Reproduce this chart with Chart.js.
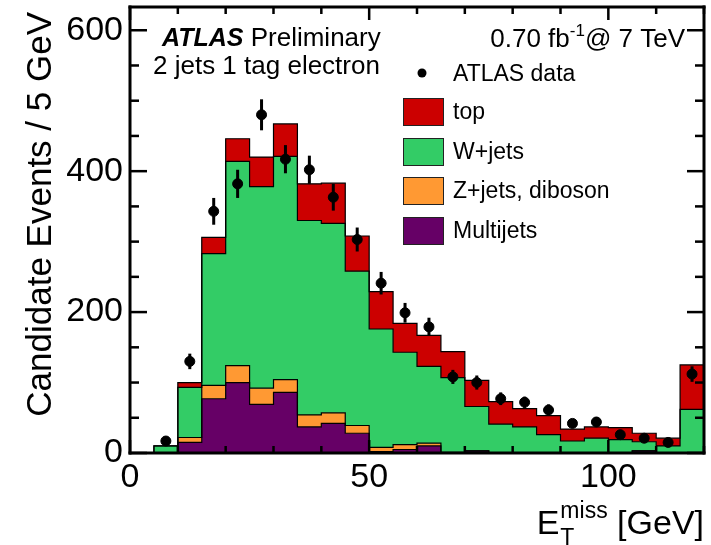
<!DOCTYPE html>
<html><head><meta charset="utf-8">
<script src="https://cdn.jsdelivr.net/npm/chart.js@4.4.1/dist/chart.umd.min.js"></script>
<style>html,body{margin:0;padding:0;background:#fff}#wrap{width:711px;height:545px;position:relative}</style>
</head><body><div id="wrap"><canvas id="c" width="711" height="545"></canvas></div>
<script>
// ---- data (bins of 5 GeV, 0..120) ----
const binEdges = [0,5,10,15,20,25,30,35,40,45,50,55,60,65,70,75,80,85,90,95,100,105,110,115,120];
const multijets    = [0,0,15,77,100,69,86,37,42,28,2,5,10,0,3,0,0,0,0,0,0,3,0,0];
const zjetsDiboson = [0,0,7,19,24,23,18,17,15,11,6,7,4,1,0,0,0,0,0,0,0,0,0,0];
const wjets        = [0,10,71,187,290,286,317,276,269,219,168,131,109,106,63,41,37,26,17,21,19,13,10,62];
const topQuark     = [0,0,7,23,32,42,46,52,57,50,53,41,44,37,37,32,26,27,17,16,17,12,11,63];
const dataCounts   = [null,17,130,343,382,480,417,402,363,303,241,199,179,108,100,77,72,61,42,44,26,21,15,112];
const dataErrors   = [0,4,11,19,20,22,20,20,19,17,16,14,13,10,10,9,8,8,6,7,5,5,4,11];
const yTickValues  = [0,200,400,600];
const xTickValues  = [0,50,100];
const seriesLabels = ['ATLAS data','top','W+jets','Z+jets, diboson','Multijets'];

// ---- build stacked step outlines ----
const sum = (a,b) => a.map((v,i)=>v+b[i]);
const c1 = multijets.slice();
const c2 = sum(c1, zjetsDiboson);
const c3 = sum(c2, wjets);
const c4 = sum(c3, topQuark);
function stepPts(vals){
  const pts = vals.map((v,i)=>({x:binEdges[i], y:v}));
  pts.push({x:binEdges[binEdges.length-1], y:vals[vals.length-1]});
  return pts;
}
const centers = binEdges.slice(0,-1).map((e,i)=> (e+binEdges[i+1])/2);
const dataPts = [];
dataCounts.forEach((v,i)=>{ if(v!==null) dataPts.push({x:centers[i], y:v, e:dataErrors[i]}); });

const COL = {top:'#cc0000', w:'#33cc66', z:'#ff9933', m:'#660066'};
const FONT = '"Liberation Sans", Arial, Helvetica, sans-serif';
const Y_MAX = 633, X_MAX = 120;

const decor = {
  id:'decor',
  afterDraw(chart){
    const ctx = chart.ctx, xs = chart.scales.x, ys = chart.scales.y, ca = chart.chartArea;
    ctx.save();
    ctx.fillStyle = '#000';
    // error bars
    dataPts.forEach(p=>{
      const px = xs.getPixelForValue(p.x);
      const yTop = ys.getPixelForValue(p.y + p.e), yBot = ys.getPixelForValue(p.y - p.e);
      ctx.fillRect(px - 1.5, yTop, 3, yBot - yTop);
    });
    const L = Math.round(ca.left), R = Math.round(ca.right), T = Math.round(ca.top), B = Math.round(ca.bottom);
    // y ticks (inward, both sides)
    for(let v=0; v<=Y_MAX; v+=50){
      const py = ys.getPixelForValue(v);
      const len = (v%200===0) ? 17 : 9;
      ctx.fillRect(L, py - 1.25, len, 2.5);
      ctx.fillRect(R - len, py - 1.25, len, 2.5);
    }
    // x ticks (inward, top and bottom)
    for(let v=0; v<=X_MAX; v+=10){
      const px = xs.getPixelForValue(v);
      const len = (v%50===0) ? 13 : 7;
      ctx.fillRect(px - 1.25, B - len, 2.5, len);
      ctx.fillRect(px - 1.25, T, 2.5, len);
    }
    // frame
    ctx.fillRect(L - 1.5, T - 1.5, R - L + 3, 3);
    ctx.fillRect(L - 1.5, B - 1.5, R - L + 3, 3);
    ctx.fillRect(L - 1.5, T - 1.5, 3, B - T + 3);
    ctx.fillRect(R - 1.5, T - 1.5, 3, B - T + 3);

    ctx.textBaseline = 'alphabetic';
    ctx.textAlign = 'left';
    // ATLAS Preliminary
    ctx.font = 'italic bold 25px ' + FONT;
    ctx.fillText('ATLAS', 162, 46);
    const wA = ctx.measureText('ATLAS').width;
    ctx.font = '26px ' + FONT;
    ctx.fillText(' Preliminary', 162 + wA, 46);
    ctx.fillText('2 jets 1 tag electron', 153, 74);
    // luminosity
    ctx.font = '26px ' + FONT;
    const t1 = '0.70 fb', t3 = '@ 7 TeV';
    const w1 = ctx.measureText(t1).width, w3 = ctx.measureText(t3).width;
    ctx.font = '17px ' + FONT;
    const w2 = ctx.measureText('-1').width;
    const xr = 685, xl = xr - (w1 + w2 + w3);
    ctx.font = '26px ' + FONT;
    ctx.fillText(t1, xl, 47);
    ctx.fillText(t3, xl + w1 + w2, 47);
    ctx.font = '17px ' + FONT;
    ctx.fillText('-1', xl + w1, 36);
    // legend
    const ds = chart.data.datasets;
    ctx.font = '23px ' + FONT;
    ctx.beginPath(); ctx.arc(422, 73, 4.5, 0, Math.PI*2); ctx.fill();
    ctx.fillText(ds[0].label, 453, 81);
    const rows = [[1,98],[2,138],[3,177],[4,217]];
    rows.forEach(([k,y])=>{
      ctx.fillStyle = ds[k].backgroundColor;
      ctx.fillRect(403, y, 41, 28);
      ctx.strokeStyle = '#222'; ctx.lineWidth = 1;
      ctx.strokeRect(403.5, y+0.5, 40, 27);
      ctx.fillStyle = '#000';
      ctx.fillText(ds[k].label, 453, y + 21);
    });
    // y axis title
    ctx.save();
    ctx.font = '35px ' + FONT;
    ctx.translate(51, 12);
    ctx.rotate(-Math.PI/2);
    ctx.textAlign = 'right';
    ctx.fillText('Candidate Events / 5 GeV', 0, 0);
    ctx.restore();
    // x axis title  E_T^miss [GeV]
    ctx.textAlign = 'left';
    ctx.font = '34px ' + FONT;
    const wE = ctx.measureText('E').width;
    const wB = ctx.measureText(' [GeV]').width;
    ctx.font = '23px ' + FONT;
    const wM = ctx.measureText('miss').width;
    const xend = 707;
    const xs0 = xend - (wE + 1 + wM + wB) - 3;
    ctx.font = '34px ' + FONT;
    ctx.fillText('E', xs0, 534);
    ctx.fillText(' [GeV]', xs0 + wE + 1 + wM, 534);
    ctx.font = '23px ' + FONT;
    ctx.fillText('miss', xs0 + wE + 1, 518);
    ctx.fillText('T', xs0 + wE + 1, 545);
    ctx.restore();
  }
};

const lineBase = {type:'line', borderColor:'#000', borderWidth:1.2, pointRadius:0, stepped:true, tension:0};
new Chart(document.getElementById('c'), {
  type:'line',
  data:{
    datasets:[
      {type:'line', label:seriesLabels[0], data:dataPts, showLine:false, pointRadius:5, pointBackgroundColor:'#000', pointBorderColor:'#000', borderColor:'#000', backgroundColor:'#000', fill:false},
      Object.assign({}, lineBase, {label:seriesLabels[1], data:stepPts(c4), backgroundColor:COL.top, fill:'+1'}),
      Object.assign({}, lineBase, {label:seriesLabels[2], data:stepPts(c3), backgroundColor:COL.w, fill:'+1'}),
      Object.assign({}, lineBase, {label:seriesLabels[3], data:stepPts(c2), backgroundColor:COL.z, fill:'+1'}),
      Object.assign({}, lineBase, {label:seriesLabels[4], data:stepPts(c1), backgroundColor:COL.m, fill:'origin'})
    ]
  },
  options:{
    responsive:false, animation:false, devicePixelRatio:1,
    layout:{padding:{left:0, right:7, top:7, bottom:0}},
    plugins:{legend:{display:false}, tooltip:{enabled:false}, filler:{drawTime:'beforeDatasetsDraw', propagate:false}},
    scales:{
      x:{type:'linear', min:0, max:X_MAX,
         grid:{display:false, drawTicks:false}, border:{display:false},
         afterFit(s){ s.height = 92; s.paddingLeft = 0; s.paddingRight = 0; },
         afterBuildTicks(s){ s.ticks = xTickValues.map(v=>({value:v})); },
         ticks:{font:{family:FONT, size:34}, color:'#000', padding:4, maxRotation:0, autoSkip:false}},
      y:{type:'linear', min:0, max:Y_MAX,
         grid:{display:false, drawTicks:false}, border:{display:false},
         afterFit(s){ s.width = 130; s.paddingTop = 0; s.paddingBottom = 0; },
         afterBuildTicks(s){ s.ticks = yTickValues.map(v=>({value:v})); },
         ticks:{font:{family:FONT, size:34}, color:'#000', padding:7}}
    }
  },
  plugins:[decor]
});
</script></body></html>
